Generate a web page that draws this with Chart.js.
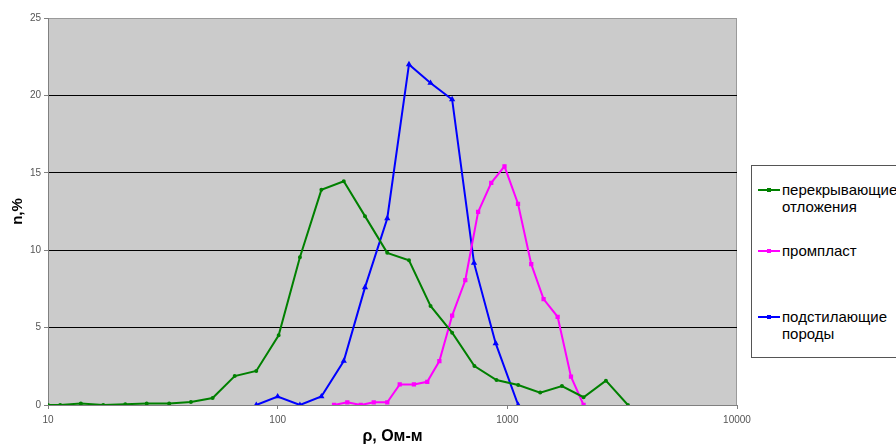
<!DOCTYPE html>
<html>
<head>
<meta charset="utf-8">
<script src="https://cdn.jsdelivr.net/npm/chart.js@4.4.1/dist/chart.umd.min.js"></script>
<style>
    html, body { margin: 0; padding: 0; background: #fff; }
    #wrap { position: relative; width: 896px; height: 447px; overflow: hidden; }
    #legend {
        position: absolute; left: 751px; top: 165px; width: 150px; height: 191px;
        border: 1px solid #555; background: #fff;
        font-family: "Liberation Sans", Arial, sans-serif; font-size: 15px; color: #000;
    }
    #legend .item { position: absolute; left: 6px; display: flex; align-items: flex-start; }
    #legend .swatch { width: 22px; height: 2px; margin-top: 8px; margin-right: 2px; position: relative; }
    #legend .swatch i { position: absolute; left: 9px; top: -1px; width: 4px; height: 4px; }
    #legend .txt { line-height: 17px; margin-top: 0px; }
</style>
</head>
<body>
<div id="wrap">
    <canvas id="chart1" width="896" height="447"></canvas>
    <div id="legend"></div>
</div>
<script>
// series: перекрывающие отложения
var overX = [10, 11.3, 13.9, 17.4, 21.7, 26.9, 33.7, 41.9, 52.1, 65, 80.7, 101, 125, 155, 194, 240, 300, 373, 463, 575, 719, 897, 1115, 1390, 1729, 2148, 2687, 3350];
var overY = [0, 0, 0.1, 0, 0.05, 0.1, 0.1, 0.2, 0.45, 1.87, 2.2, 4.5, 9.55, 13.9, 14.45, 12.2, 9.83, 9.35, 6.4, 4.67, 2.52, 1.61, 1.29, 0.8, 1.22, 0.5, 1.57, 0];

// series: промпласт
var promX = [176, 201, 230, 262, 300, 340, 392, 448, 506, 575, 656, 746, 851, 972, 1113, 1271, 1438, 1656, 1893, 2148];
var promY = [0, 0.17, 0, 0.17, 0.17, 1.33, 1.33, 1.5, 2.84, 5.77, 8.06, 12.47, 14.35, 15.42, 13.0, 9.1, 6.84, 5.7, 1.83, 0];

// series: подстилающие породы
var podX = [80.7, 100, 125, 155, 194, 240, 300, 373, 463, 575, 716, 890, 1115];
var podY = [0, 0.55, 0, 0.55, 2.84, 7.6, 12.05, 22.0, 20.8, 19.74, 9.18, 3.98, 0];

var xTicks = [10, 100, 1000, 10000];
var yTicks = [0, 5, 10, 15, 20, 25];

var seriesNames = [['перекрывающие', 'отложения'], ['промпласт'], ['подстилающие', 'породы']];
var seriesColors = ['#008000', '#ff00ff', '#0000ff'];

function pts(xs, ys) {
    return xs.map(function (x, i) { return { x: x, y: ys[i] }; });
}

// gray plot background and frame
var plotBg = {
    id: 'plotBg',
    beforeDraw: function (chart) {
        var a = chart.chartArea, c = chart.ctx;
        c.save();
        c.fillStyle = '#cbcbcb';
        c.fillRect(a.left, a.top, a.right - a.left, a.bottom - a.top);
        c.strokeStyle = '#9a9a9a';
        c.lineWidth = 1;
        c.strokeRect(a.left + 0.5, a.top + 0.5, a.right - a.left - 1, a.bottom - a.top);
        c.restore();
    }
};

var ctx1 = document.getElementById('chart1').getContext('2d');
var chart1 = new Chart(ctx1, {
    type: 'line',
    data: {
        datasets: [{
            label: seriesNames[0].join(' '),
            data: pts(overX, overY),
            borderColor: seriesColors[0],
            backgroundColor: seriesColors[0],
            borderWidth: 2,
            pointStyle: 'circle',
            pointRadius: 1
        }, {
            label: seriesNames[1].join(' '),
            data: pts(promX, promY),
            borderColor: seriesColors[1],
            backgroundColor: seriesColors[1],
            borderWidth: 2,
            pointStyle: 'rect',
            pointRadius: 1.6
        }, {
            label: seriesNames[2].join(' '),
            data: pts(podX, podY),
            borderColor: seriesColors[2],
            backgroundColor: seriesColors[2],
            borderWidth: 2,
            pointStyle: 'triangle',
            pointRadius: 1.6
        }]
    },
    options: {
        responsive: false,
        animation: false,
        layout: { padding: { top: 18, right: 159, left: 0, bottom: 0 } },
        plugins: {
            legend: { display: false },
            tooltip: { enabled: false }
        },
        scales: {
            x: {
                type: 'logarithmic',
                min: 10,
                max: 10000,
                afterBuildTicks: function (s) { s.ticks = xTicks.map(function (v) { return { value: v }; }); },
                afterFit: function (s) { s.height = 42; },
                border: { display: true, color: '#808080', width: 1 },
                grid: { drawOnChartArea: false, tickLength: 4, color: '#808080' },
                ticks: {
                    autoSkip: false,
                    maxRotation: 0,
                    padding: 5,
                    color: '#555',
                    font: { family: 'Liberation Sans', size: 10 },
                    callback: function (v) { return String(v); }
                },
                title: {
                    display: true,
                    text: 'ρ, Ом-м',
                    color: '#000',
                    font: { family: 'Liberation Sans', size: 16, weight: 'bold' },
                    padding: { top: 0, bottom: 1 }
                }
            },
            y: {
                min: 0,
                max: 25,
                afterBuildTicks: function (s) { s.ticks = yTicks.map(function (v) { return { value: v }; }); },
                afterFit: function (s) { s.width = 48; },
                border: { display: true, color: '#808080', width: 1 },
                grid: {
                    tickLength: 4,
                    color: function (c) { return (c.tick.value === 0 || c.tick.value === 25) ? 'rgba(0,0,0,0)' : '#000'; },
                    tickColor: '#808080'
                },
                ticks: {
                    padding: 3,
                    color: '#555',
                    font: { family: 'Liberation Sans', size: 10 }
                },
                title: {
                    display: true,
                    text: 'n,%',
                    color: '#000',
                    font: { family: 'Liberation Sans', size: 15, weight: 'bold' },
                    padding: { top: 9, bottom: 0 }
                }
            }
        }
    },
    plugins: [plotBg]
});

// html legend in a box on the right
var legendTops = [180, 241, 307];
var leg = document.getElementById('legend');
seriesNames.forEach(function (name, i) {
    var it = document.createElement('div');
    it.className = 'item';
    it.style.top = (legendTops[i] - 165) + 'px';
    var sw = document.createElement('div');
    sw.className = 'swatch';
    sw.style.background = seriesColors[i];
    var dot = document.createElement('i');
    dot.style.background = seriesColors[i];
    sw.appendChild(dot);
    var tx = document.createElement('div');
    tx.className = 'txt';
    tx.innerHTML = name.join('<br>');
    it.appendChild(sw);
    it.appendChild(tx);
    leg.appendChild(it);
});
</script>
</body>
</html>
